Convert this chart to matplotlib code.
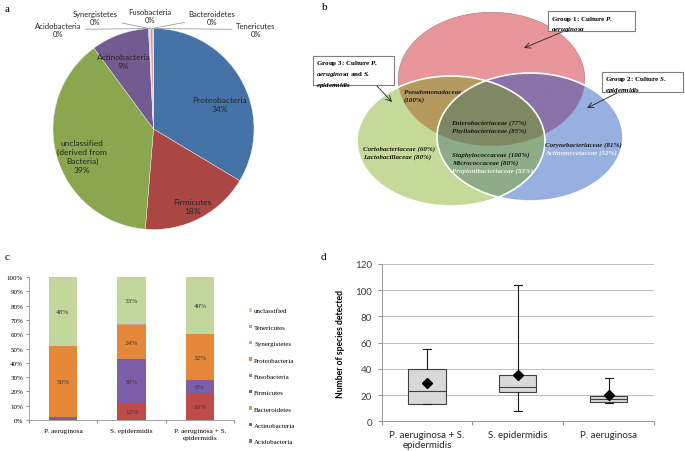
import matplotlib
matplotlib.use("Agg")
import matplotlib.pyplot as plt
import numpy as np
from matplotlib.patches import Ellipse, Rectangle
from matplotlib.ticker import PercentFormatter

plt.rcParams['mathtext.fontset'] = 'custom'
plt.rcParams['mathtext.it'] = 'Liberation Serif:italic:bold'
plt.rcParams['mathtext.rm'] = 'Liberation Serif:bold'

# ---- panel a: phyla, pie
pie_names = ["Proteobacteria", "Firmicutes", "unclassified\n(derived from\nBacteria)", "Actinobacteria",
             "Acidobacteria", "Synergistetes", "Fusobacteria", "Bacteroidetes", "Tenericutes"]
pie_vals = [33.6, 17.7, 38.6, 9.3, 0.1, 0.1, 0.1, 0.4, 0.1]
pie_cols = ["#4573A8", "#AA4644", "#8AA64F", "#735A91", "#4198AF", "#DB843D", "#93A9CF", "#D89493", "#B9CD96"]

# ---- panel b: venn labels
venn_groups = ["Group 1: Culture $P.$\n$aeruginosa$",
               "Group 2: Culture $S.$\n$epidermidis$",
               "Group 3: Culture $P.$\n$aeruginosa$ and $S.$\n$epidermidis$"]
venn_families = [["Pseudomonadaceae", "(100%)"],
                 ["Enterobacteriaceae (77%)", "Phyllobacteriaceae (85%)"],
                 ["Coriobacteriaceae (60%)", "Lactobacillaceae (80%)"],
                 ["Staphylococcaceae (100%)", "Micrococcaceae (80%)", "Propionibacteriaceae (55%)"],
                 ["Corynebacteriaceae (81%)", "Actinomycetaceae (52%)"]]

# ---- panel c: stacked 100% bars
samples = ["P. aeruginosa", "S. epidermidis", "P. aeruginosa + S.\nepidermidis"]
phyla = ["Acidobacteria", "Actinobacteria", "Bacteroidetes", "Firmicutes", "Fusobacteria",
         "Proteobacteria", "Synergistetes", "Tenericutes", "unclassified"]
shares = {
    "Acidobacteria": [0, 0, 0],
    "Actinobacteria": [1, 12, 19],
    "Bacteroidetes": [0, 0, 0],
    "Firmicutes": [1, 30.5, 9],
    "Fusobacteria": [0, 0, 0],
    "Proteobacteria": [50, 24, 32],
    "Synergistetes": [0, 0, 0],
    "Tenericutes": [0, 0.5, 0],
    "unclassified": [48, 33, 40],
}
bar_cols = ["#4F81BD", "#BE4B48", "#9BBB59", "#7B5EA7", "#4BACC6", "#E6883A", "#95B3D7", "#D99694", "#C3D69B"]

# ---- panel d: species counts, box plot
groups_d = ["P. aeruginosa + S.\nepidermidis", "S. epidermidis", "P. aeruginosa"]
q1 = [13, 22, 15]
med = [23, 26, 17]
q3 = [40, 35, 19]
lo = [13, 8, 14]
hi = [55, 104, 33]
means = [29, 35.5, 20]

fig = plt.figure(figsize=(6.85, 4.52), dpi=100)

# overlay in pixel coords for venn and panel letters
ov = fig.add_axes([0, 0, 1, 1])
ov.axis('off')

xs = np.linspace(350, 630, 841)
ys = np.linspace(5, 215, 631)
X, Y = np.meshgrid(xs, ys)
def inside(cx, cy, w, h):
    return ((X - cx) / (w / 2)) ** 2 + ((Y - cy) / (h / 2)) ** 2 <= 1
R = inside(491.5, 80, 187, 134)
G = inside(451, 142, 188, 130)
B = inside(530, 138, 186, 128)
img = np.zeros(X.shape + (4,))
def paint(mask, hexcol):
    img[mask] = matplotlib.colors.to_rgba(hexcol)
paint(R & ~G & ~B, "#E8959B")
paint(G & ~R & ~B, "#C6DA9A")
paint(B & ~R & ~G, "#97B1E0")
paint(R & G & ~B, "#B49B5E")
paint(R & B & ~G, "#8B72A8")
paint(G & B & ~R, "#8DAC87")
paint(R & G & B, "#7F8864")
ov.imshow(img, extent=(350, 630, 215, 5), aspect='auto', interpolation='antialiased')
ov.add_patch(Ellipse((451, 142), 188, 130, fill=False, ec='white', lw=1.2))
ov.add_patch(Ellipse((530, 138), 186, 128, fill=False, ec='white', lw=1.2))
ov.set_xlim(0, 685)
ov.set_ylim(452, 0)

# group boxes + arrows
boxes = [(548, 12, 87, 20), (602, 73, 81, 20), (313, 57, 81, 29)]
arrows = [((562, 33), (524, 49)), ((617, 94), (587, 109)), ((377, 87), (392, 103))]
for txt, (bx, by, bw, bh), (p0, p1) in zip(venn_groups, boxes, arrows):
    ov.add_patch(Rectangle((bx, by), bw, bh, fc='white', ec='#7f7f7f', lw=0.8))
    ov.text(bx + 3, by + 2.5, txt, fontsize=5.0, family='Liberation Serif', fontweight='bold',
            va='top', ha='left', linespacing=1.25)
    ov.annotate('', xy=p1, xytext=p0,
                arrowprops=dict(arrowstyle='->', lw=0.6, color='#222222', shrinkA=0, shrinkB=0))

fam_pos = [(404, 92, 'left'), (489, 123, 'center'), (363, 149, 'left'), (452, 155, 'left'), (545, 145, 'left')]
white_lines = {"Propionibacteriaceae (55%)", "Actinomycetaceae (52%)"}
for lines, (fx, fy, ha) in zip(venn_families, fam_pos):
    for k, ln in enumerate(lines):
        ov.text(fx, fy + k * 8, ln, fontsize=5.0, family='Liberation Serif', fontweight='bold',
                fontstyle='italic', ha=ha, va='center',
                color='#F2F2F2' if ln in white_lines else '#1a1a1a')

for lt, (lx, ly) in zip("abcd", [(5, 9), (322, 8), (5, 258), (321, 258)]):
    ov.text(lx, ly, lt, fontsize=8, family='Liberation Serif', va='center', ha='left')

# ---- a
axa = fig.add_axes([53 / 685, (452 - 230.5) / 452, 201 / 685, 201 / 452])
wedges, _ = axa.pie(pie_vals, colors=pie_cols, startangle=90, counterclock=False,
                    wedgeprops=dict(linewidth=0.3, edgecolor='#f0f0f0'))
axa.set_xlim(-1, 1)
axa.set_ylim(-1, 1)
big_pos = [(0.66, 0.25), (0.39, -0.77), (-0.71, -0.27), (-0.30, 0.68)]
for name, v, (tx, ty) in zip(pie_names[:4], pie_vals[:4], big_pos):
    axa.text(tx, ty, f"{name}\n{v:.0f}%", ha='center', va='center', fontsize=6,
             family='Lato', color='#262626', linespacing=1.35)
small_pos = [(-0.95, 0.99), (-0.58, 1.11), (-0.035, 1.13), (0.58, 1.11), (1.02, 0.99)]
for w, name, v, (tx, ty) in zip(wedges[4:], pie_names[4:], pie_vals[4:], small_pos):
    mid = np.deg2rad((w.theta1 + w.theta2) / 2)
    axa.annotate(f"{name}\n{v:.0f}%", xy=(np.cos(mid), np.sin(mid)), xytext=(tx, ty),
                 ha='center', va='center', fontsize=5.5, family='Lato', color='#262626',
                 annotation_clip=False,
                 arrowprops=dict(arrowstyle='-', lw=0.5, color='#8c8c8c', shrinkA=1, shrinkB=0))

# ---- c
axc = fig.add_axes([28.75 / 685, (452 - 421) / 452, 205.5 / 685, 143 / 452])
xpos = np.arange(len(samples))
bottom = np.zeros(len(samples))
handles = []
for name, col in zip(phyla, bar_cols):
    vals = np.array(shares[name], dtype=float) / 100
    bc = axc.bar(xpos, vals, 0.41, bottom=bottom, color=col, label=name)
    handles.append(bc)
    for xi, v, b0 in zip(xpos, vals, bottom):
        if v >= 0.08:
            axc.text(xi, b0 + v / 2, f"{round(v * 100)}%", ha='center', va='center',
                     fontsize=5.2, family='Liberation Serif', color='#3a3a3a')
    bottom += vals
axc.set_xlim(-0.5, 2.5)
axc.set_ylim(0, 1)
axc.set_yticks(np.arange(0, 1.01, 0.1))
axc.yaxis.set_major_formatter(PercentFormatter(1.0, decimals=0))
axc.set_xticks([-0.5, 0.5, 1.5, 2.5])
axc.set_xticklabels([])
axc.set_xticks(xpos, minor=True)
axc.set_xticklabels(samples, minor=True, fontsize=5.2, family='Liberation Serif', linespacing=1.4)
axc.tick_params(axis='x', which='minor', length=0, pad=6)
axc.tick_params(axis='x', which='major', length=2, color='#969696')
axc.tick_params(axis='y', labelsize=5, length=2, color='#969696', pad=2)
for lab in axc.get_yticklabels():
    lab.set_family('Liberation Serif')
for s in ['top', 'right']:
    axc.spines[s].set_visible(False)
for s in ['left', 'bottom']:
    axc.spines[s].set_color('#969696')
    axc.spines[s].set_linewidth(0.6)
leg = fig.legend(handles[::-1], phyla[::-1], loc='upper left', bbox_to_anchor=(243 / 685, 1 - 303 / 452),
                 frameon=False, prop={'family': 'Liberation Serif', 'size': 5},
                 handlelength=0.4, handleheight=0.4, handletextpad=0.3, labelspacing=1.6)

# ---- d
axd = fig.add_axes([381.7 / 685, (452 - 422.3) / 452, 272.3 / 685, 157.3 / 452])
stats = [dict(q1=a, med=m, q3=c, whislo=l, whishi=h, mean=mu, fliers=[])
         for a, m, c, l, h, mu in zip(q1, med, q3, lo, hi, means)]
axd.bxp(stats, positions=range(len(stats)), widths=0.41, patch_artist=True, showmeans=True,
        capwidths=0.09, zorder=3,
        boxprops=dict(facecolor='#D9D9D9', edgecolor='#404040', lw=0.8),
        medianprops=dict(color='#404040', lw=0.8),
        whiskerprops=dict(color='#1a1a1a', lw=0.8),
        capprops=dict(color='#1a1a1a', lw=0.8),
        meanprops=dict(marker='D', markerfacecolor='black', markeredgecolor='black', markersize=5))
axd.set_xlim(-0.5, 2.5)
axd.set_ylim(0, 120)
axd.set_yticks(range(0, 121, 20))
axd.yaxis.grid(True, color='#BFBFBF', lw=0.7)
axd.set_axisbelow(True)
axd.set_xticks([-0.5, 0.5, 1.5, 2.5])
axd.set_xticklabels([])
axd.set_xticks(range(3), minor=True)
axd.set_xticklabels(groups_d, minor=True, fontsize=7, family='Lato', color='#262626')
axd.tick_params(axis='x', which='minor', length=0, pad=6)
axd.tick_params(axis='x', which='major', length=3, color='#969696')
axd.tick_params(axis='y', labelsize=7, length=3, color='#969696', labelcolor='#404040', pad=4)
for lab in axd.get_yticklabels():
    lab.set_family('Lato')
axd.set_ylabel("Number of species detected", fontsize=6.2, family='Lato', fontweight='bold', labelpad=7)
for s in ['top', 'right']:
    axd.spines[s].set_visible(False)
for s in ['left', 'bottom']:
    axd.spines[s].set_color('#969696')
    axd.spines[s].set_linewidth(0.7)

fig.savefig("out.png", dpi=100)
